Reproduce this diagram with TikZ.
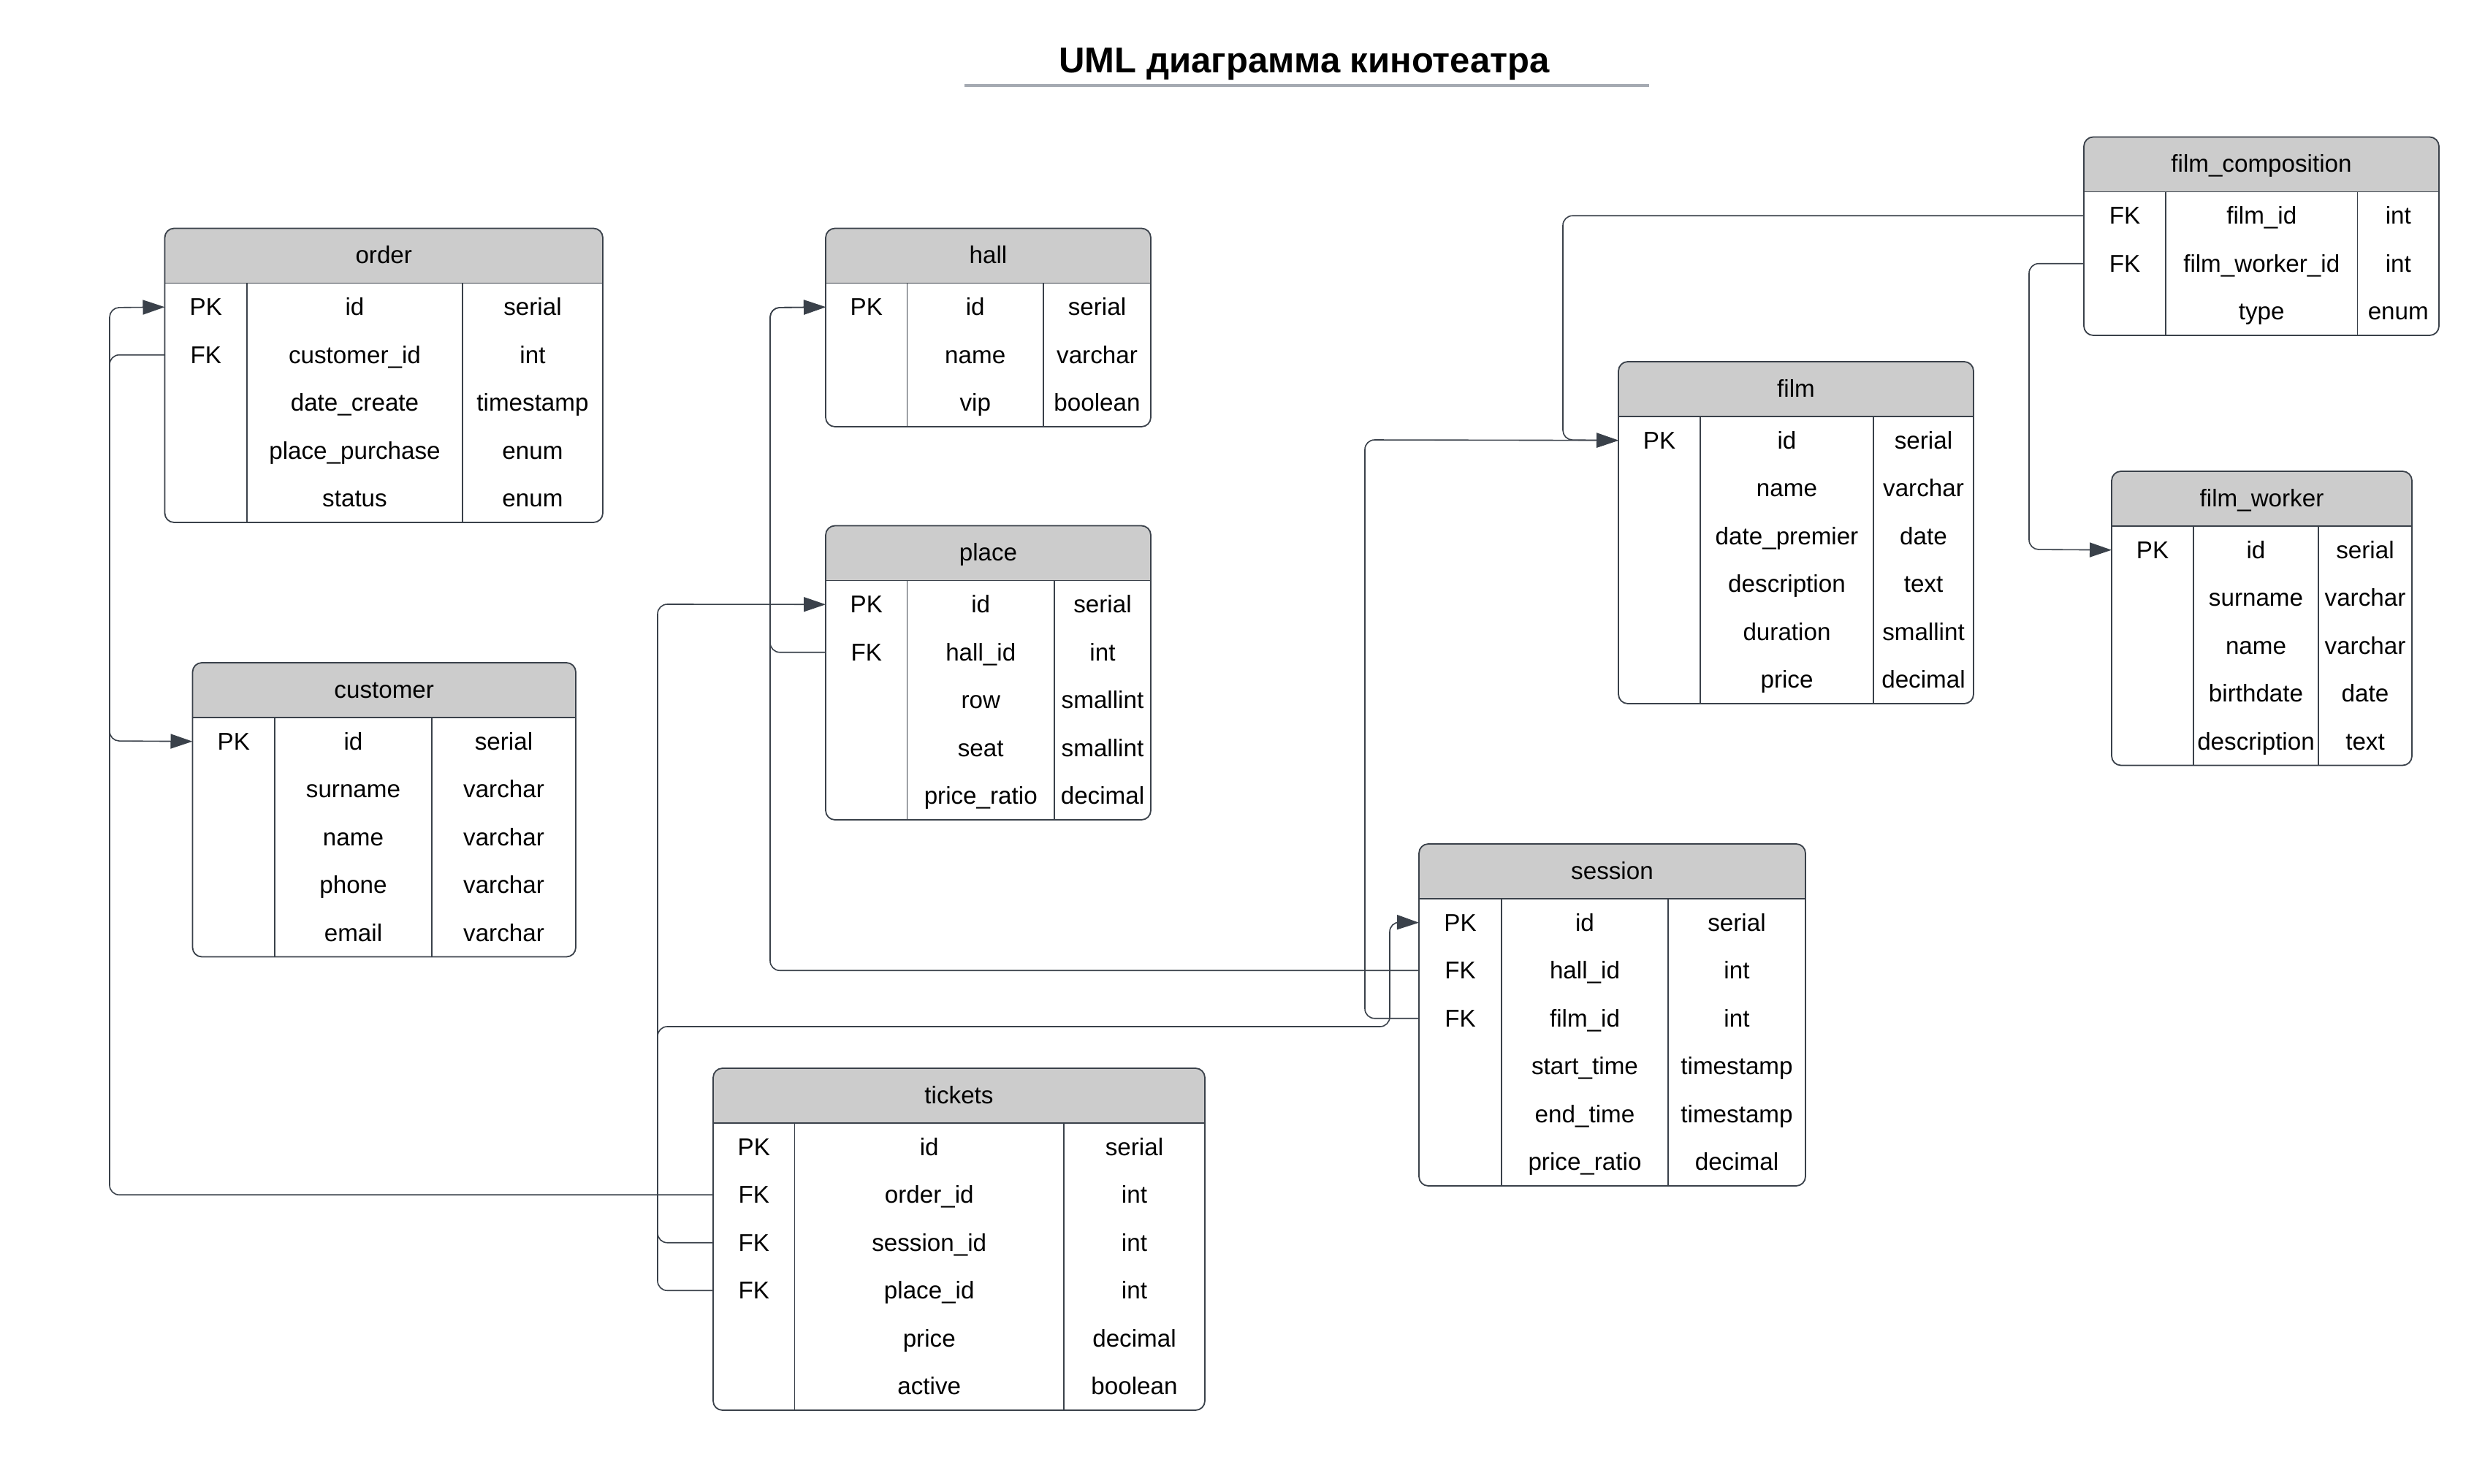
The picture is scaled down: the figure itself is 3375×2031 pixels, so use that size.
\documentclass[tikz,border=0pt]{standalone}
\usepackage{fontspec}
\setmainfont{Liberation Sans}
\usetikzlibrary{arrows.meta}
\definecolor{linecol}{HTML}{3A414A}
\definecolor{hdrcol}{HTML}{CCCCCC}
\definecolor{ulcol}{HTML}{A5AAB2}
\newcommand\cellfont{\fontsize{8.3pt}{10pt}\selectfont}
\tikzset{
  celltxt/.style={inner sep=0pt, anchor=base, font=\cellfont, text=black},
  tblborder/.style={draw=linecol, line width=0.45pt},
  divline/.style={draw=linecol, line width=0.35pt},
  conn/.style={draw=linecol, line width=0.4pt, rounded corners=3.3pt},
  connarr/.style={conn, -{Triangle[length=7.5pt,width=5pt]}},
}
% #1 name, #2 left, #3 top, #4 right, #5 col1, #6 col2, #7 title, #8 rows, #9 list
\newcommand\erdtab[9]{%
  \pgfmathsetmacro\tbot{#3+75+#8*65.5}%
  \pgfmathsetmacro\thdr{#3+75}%
  \begin{scope}
    \clip[rounded corners=3.2pt] (#2,#3) rectangle (#4,\tbot);
    \fill[hdrcol] (#2,#3) rectangle (#4,\thdr);
  \end{scope}
  \draw[divline] (#5,\thdr) -- (#5,\tbot);
  \draw[divline] (#6,\thdr) -- (#6,\tbot);
  \draw[tblborder] (#2,\thdr) -- (#4,\thdr);
  \draw[tblborder, rounded corners=3.2pt] (#2,#3) rectangle (#4,\tbot);
  \node[celltxt] (#1-title) at ({(#2+#4)/2},{#3+37.5+11}) {#7};
  \foreach \k/\f/\t [count=\i] in {#9} {
    \pgfmathsetmacro\ry{#3+75+(\i-0.5)*65.5}
    \coordinate (#1-r\i) at (#2,\ry);
    \node[celltxt] (#1-k\i) at ({(#2+#5)/2},\ry+11.5) {\k};
    \node[celltxt] (#1-f\i) at ({(#5+#6)/2},\ry+11.5) {\f};
    \node[celltxt] (#1-t\i) at ({(#6+#4)/2},\ry+11.5) {\t};
  }
}
\begin{document}
\begin{tikzpicture}[x=0.25pt, y=-0.25pt]
\useasboundingbox[fill=white] (0,0) rectangle (3375,2031);

% title
\node[inner sep=0pt, anchor=base, font=\bfseries\fontsize{12.25pt}{15pt}\selectfont] (title) at (1785,100) {UML диаграмма кинотеатра};
\coordinate (ulA) at (1320,117);
\coordinate (ulB) at (2257,117);
\draw[ulcol, line width=1.1pt] (ulA) -- (ulB);

% tables
\erdtab{order}{225.5}{312.5}{825}{338}{633}{order}{5}{PK/id/serial, FK/customer\_id/int, /date\_create/timestamp, /place\_purchase/enum, /status/enum}
\erdtab{hall}{1130}{312.5}{1575}{1241.5}{1428}{hall}{3}{PK/id/serial, /name/varchar, /vip/boolean}
\erdtab{place}{1130}{719.5}{1575}{1241.5}{1443}{place}{5}{PK/id/serial, FK/hall\_id/int, /row/smallint, /seat/smallint, /price\_ratio/decimal}
\erdtab{customer}{263.5}{907}{788}{376}{591}{customer}{5}{PK/id/serial, /surname/varchar, /name/varchar, /phone/varchar, /email/varchar}
\erdtab{tickets}{976}{1462}{1649}{1087.5}{1456}{tickets}{6}{PK/id/serial, FK/order\_id/int, FK/session\_id/int, FK/place\_id/int, /price/decimal, /active/boolean}
\erdtab{session}{1942}{1155}{2471}{2055}{2283}{session}{6}{PK/id/serial, FK/hall\_id/int, FK/film\_id/int, /start\_time/timestamp, /end\_time/timestamp, /price\_ratio/decimal}
\erdtab{film}{2215}{495}{2701}{2327}{2564}{film}{6}{PK/id/serial, /name/varchar, /date\_premier/date, /description/text, /duration/smallint, /price/decimal}
\erdtab{fc}{2852}{187.5}{3338}{2964}{3226.5}{film\_composition}{3}{FK/film\_id/int, FK/film\_worker\_id/int, /type/enum}
\erdtab{fw}{2890}{645}{3301}{3002}{3173}{film\_worker}{5}{PK/id/serial, /surname/varchar, /name/varchar, /birthdate/date, /description/text}

% connectors
\draw[connarr] (tickets-r2) -| (150,421) -- (order-r1);
\draw[connarr] (order-r2) -| (150,1014) -- (customer-r1);
\draw[connarr] (place-r2) -| (1054,421) -- (hall-r1);
\draw[connarr] (session-r2) -| (1054,421) -- (hall-r1);
\draw[connarr] (tickets-r4) -| (900,827) -- (place-r1);
\draw[connarr] (tickets-r3) -| (900,1405) -| (1902,1262) -- (session-r1);
\draw[connarr] (session-r3) -| (1868,602) -- (film-r1);
\draw[connarr] (fc-r1) -| (2139,602) -- (film-r1);
\draw[connarr] (fc-r2) -| (2777,752) -- (fw-r1);
\end{tikzpicture}
\end{document}
